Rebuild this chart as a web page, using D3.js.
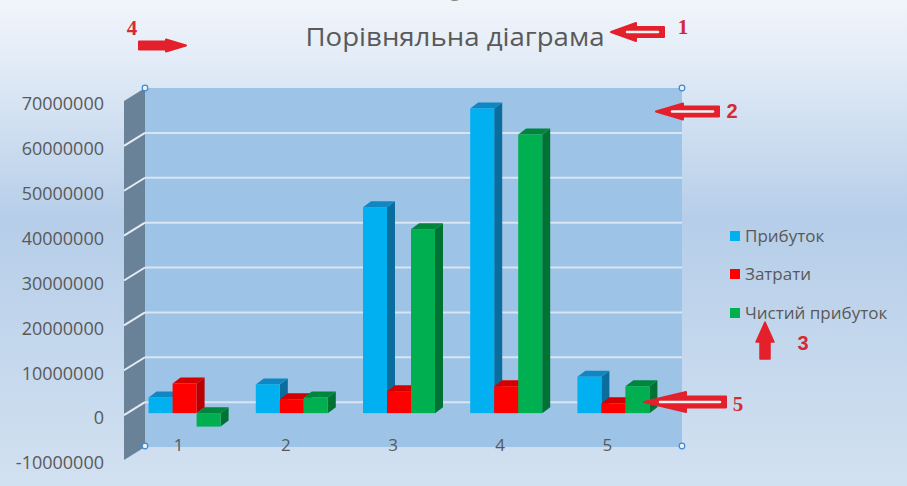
<!DOCTYPE html>
<html>
<head>
<meta charset="utf-8">
<title>Порівняльна діаграма</title>
<script src="https://d3js.org/d3.v7.min.js"></script>
<style>
  body { margin: 0; overflow: hidden; }
  text { font-family: "Open Sans", "Noto Sans", sans-serif; }
</style>
</head>
<body>
<script>
// data
var categories = ["1", "2", "3", "4", "5"];
var seriesNames = ["Прибуток", "Затрати", "Чистий прибуток"];
var profit = [3500000, 6400000, 45900000, 67900000, 8100000];
var costs = [6600000, 3100000, 4900000, 6000000, 2200000];
var netProfit = [-3000000, 3500000, 41000000, 62100000, 6000000];
var yTicks = [-10000000, 0, 10000000, 20000000, 30000000, 40000000, 50000000, 60000000, 70000000];

var w = 907, h = 486;
var series = [profit, costs, netProfit];
// front / top / side shades for each series
var colors = [
  {front: "#00b0f0", top: "#0e87c2", side: "#0a6d9e"},
  {front: "#ff0000", top: "#d40000", side: "#b80000"},
  {front: "#00b050", top: "#00853c", side: "#007234"}
];

var svg = d3.select("body").append("svg")
  .attr("width", w)
  .attr("height", h);

var defs = svg.append("defs");
var bg = defs.append("linearGradient").attr("id", "bg")
  .attr("x1", 0).attr("y1", 0).attr("x2", 0).attr("y2", 1);
bg.append("stop").attr("offset", "0").attr("stop-color", "#f1f5fb");
bg.append("stop").attr("offset", "0.12").attr("stop-color", "#e3ecf7");
bg.append("stop").attr("offset", "0.45").attr("stop-color", "#b6cee9");
bg.append("stop").attr("offset", "1").attr("stop-color", "#d2e1f1");

svg.append("rect").attr("width", w).attr("height", h).attr("fill", "url(#bg)");

// cut off text above the title
svg.append("text").attr("x", 455).attr("y", -4).attr("font-size", 20)
  .attr("fill", "#8a8a8a").attr("text-anchor", "middle").text("g");

// scales, front plane of the walls
var y = d3.scaleLinear().domain([-10000000, 70000000]).range([460, 101]);
var x = d3.scaleBand().domain(categories).range([125, 661]);
var xs = d3.scaleBand().domain(seriesNames).range([0, 72]);
var frontX = 124, wdx = 21, wdy = -13; // wall depth
var bdx = 8, bdy = -6;                 // bar depth

// back wall
svg.append("rect")
  .attr("x", frontX + wdx).attr("y", y(70000000) + wdy)
  .attr("width", 682 - frontX - wdx).attr("height", y(-10000000) - y(70000000))
  .attr("fill", "#9dc3e6");
// side wall
svg.append("path")
  .attr("d", "M" + frontX + "," + y(70000000) + "L" + (frontX + wdx) + "," + (y(70000000) + wdy) +
    "L" + (frontX + wdx) + "," + (y(-10000000) + wdy) + "L" + frontX + "," + y(-10000000) + "Z")
  .attr("fill", "#6a8298");

// gridlines
var inner = yTicks.slice(1, -1);
svg.selectAll(".grid").data(inner).enter().append("line")
  .attr("class", "grid")
  .attr("x1", frontX + wdx).attr("x2", 682)
  .attr("y1", function(d){ return y(d) + wdy; })
  .attr("y2", function(d){ return y(d) + wdy; })
  .attr("stroke", "#d9e5f2").attr("stroke-width", 2);
svg.selectAll(".sgrid").data(inner).enter().append("line")
  .attr("class", "sgrid")
  .attr("x1", frontX).attr("x2", frontX + wdx)
  .attr("y1", function(d){ return y(d); })
  .attr("y2", function(d){ return y(d) + wdy; })
  .attr("stroke", "#e4ecf5").attr("stroke-width", 2);

// y axis labels
var yAxis = svg.append("g")
  .attr("transform", "translate(110,3)")
  .call(d3.axisLeft(y).tickValues(yTicks).tickSize(0).tickPadding(6)
    .tickFormat(function(d){ return String(d); }));
yAxis.select(".domain").remove();
yAxis.selectAll("text").attr("font-size", 18).attr("fill", "#595959")
  .style("font-family", "'Open Sans', sans-serif");

// category labels
var xAxis = svg.append("g")
  .attr("transform", "translate(0,436)")
  .call(d3.axisBottom(x).tickSize(0).tickPadding(3));
xAxis.select(".domain").remove();
xAxis.selectAll("text").attr("font-size", 17).attr("fill", "#595959")
  .style("font-family", "'Open Sans', sans-serif");

// 3d bars, drawn left to right
var bars = [];
categories.forEach(function(c, i){
  seriesNames.forEach(function(s, j){
    bars.push({cat: c, s: s, j: j, v: series[j][i]});
  });
});
var base = y(0) - 2;
var g = svg.selectAll(".bar").data(bars).enter().append("g").attr("class", "bar");
function x0(d){ return x(d.cat) + x.bandwidth() / 2 - 30 + xs(d.s); }
function yTop(d){ return Math.min(y(d.v) - 2, base); }
function yBot(d){ return Math.max(y(d.v) - 2, base); }
g.append("path") // side
  .attr("d", function(d){
    var a = x0(d) + xs.bandwidth();
    return "M" + a + "," + yTop(d) + "L" + (a + bdx) + "," + (yTop(d) + bdy) +
      "L" + (a + bdx) + "," + (yBot(d) + bdy) + "L" + a + "," + yBot(d) + "Z";
  })
  .attr("fill", function(d){ return colors[d.j].side; });
g.append("path") // top
  .attr("d", function(d){
    var a = x0(d), b = a + xs.bandwidth(), t = yTop(d);
    return "M" + a + "," + t + "L" + (a + bdx) + "," + (t + bdy) +
      "L" + (b + bdx) + "," + (t + bdy) + "L" + b + "," + t + "Z";
  })
  .attr("fill", function(d){ return colors[d.j].top; });
g.append("rect") // front
  .attr("x", x0).attr("y", yTop)
  .attr("width", xs.bandwidth())
  .attr("height", function(d){ return yBot(d) - yTop(d); })
  .attr("fill", function(d){ return colors[d.j].front; });

// selection handles
[[145, 88], [682, 88], [145, 446], [682, 446]].forEach(function(p){
  svg.append("circle").attr("cx", p[0]).attr("cy", p[1]).attr("r", 2.8)
    .attr("fill", "#e8f0f8").attr("stroke", "#3f8ad2").attr("stroke-width", 1.2);
});

// title
svg.append("text").attr("x", 455).attr("y", 46).attr("text-anchor", "middle")
  .attr("font-size", 25).attr("fill", "#595959")
  .attr("textLength", 299).attr("lengthAdjust", "spacingAndGlyphs")
  .text("Порівняльна діаграма");

// legend
var leg = svg.selectAll(".leg").data(seriesNames).enter().append("g")
  .attr("class", "leg")
  .attr("transform", function(d, i){ return "translate(730," + [236, 274, 313][i] + ")"; });
leg.append("rect").attr("x", 0).attr("y", -5).attr("width", 10).attr("height", 10)
  .attr("fill", function(d, i){ return colors[i].front; });
leg.append("text").attr("x", 15).attr("y", 6).attr("font-size", 17).attr("fill", "#595959")
  .text(function(d){ return d; });

// red annotation arrows
var red = "#e3202b";
function hArrow(tip, headEnd, tail, cy, hh, sh, dir, hollow){
  // dir = -1 points left, 1 points right
  var p = "M" + tip + "," + cy + "L" + headEnd + "," + (cy - hh) + "L" + headEnd + "," + (cy - sh) +
    "L" + tail + "," + (cy - sh) + "L" + tail + "," + (cy + sh) + "L" + headEnd + "," + (cy + sh) +
    "L" + headEnd + "," + (cy + hh) + "Z";
  svg.append("path").attr("d", p).attr("fill", red).attr("stroke", red).attr("stroke-width", 2)
    .attr("stroke-linejoin", "round");
  if (hollow) {
    svg.append("line").attr("x1", tip - dir * 16).attr("x2", tail + dir * 6)
      .attr("y1", cy).attr("y2", cy).attr("stroke", "#f4f4f4").attr("stroke-width", 2.5)
      .attr("stroke-linecap", "round");
  }
}
hArrow(611, 636, 664, 32, 9, 5, -1, true);
hArrow(186, 166, 139, 45.5, 6, 4, 1, false);
hArrow(656, 683, 719, 111.5, 8, 5, -1, true);
hArrow(644, 686, 726, 402, 10, 5.5, -1, true);
svg.append("path")
  .attr("d", "M765,322L774,342L770,342L770,359L760,359L760,342L756,342Z")
  .attr("fill", red).attr("stroke", red).attr("stroke-width", 1.5).attr("stroke-linejoin", "round");

function note(txt, px, py, serif){
  svg.append("text").attr("x", px).attr("y", py).attr("text-anchor", "middle")
    .attr("font-size", serif ? 21 : 20).attr("font-weight", "bold").attr("fill", "#d42a34")
    .style("font-family", serif ? "'Liberation Serif', serif" : "'Liberation Sans', sans-serif")
    .text(txt);
}
note("1", 683, 34, true);
note("4", 132, 35, true);
note("2", 732, 118, false);
note("3", 803, 350, false);
note("5", 738, 411, true);
</script>
</body>
</html>
